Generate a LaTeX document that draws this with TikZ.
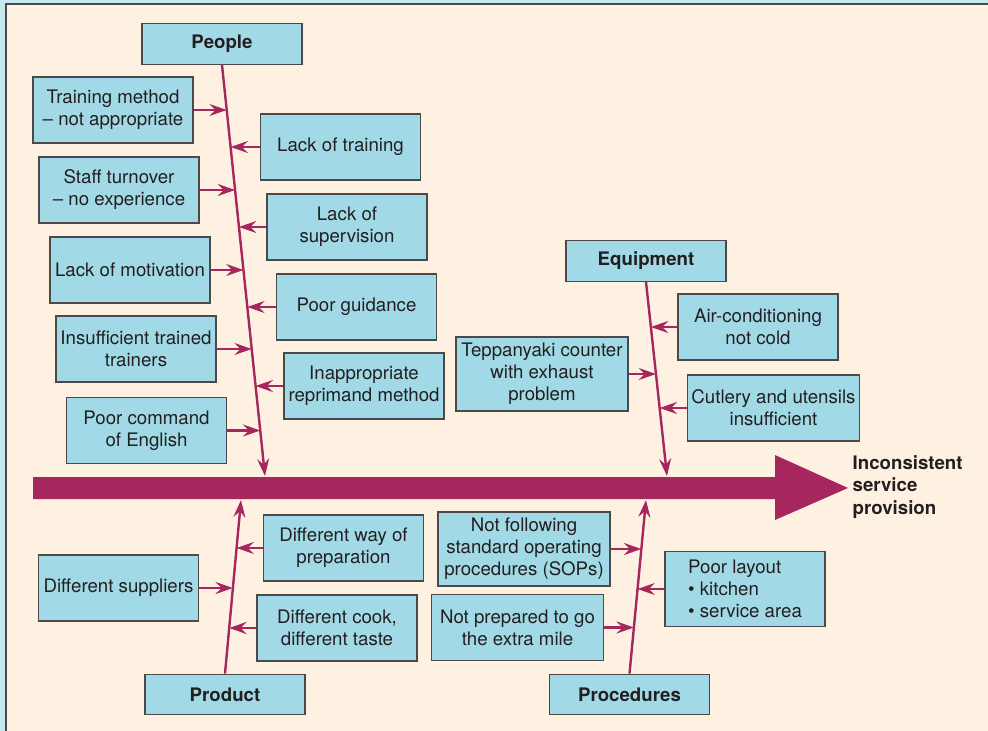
\documentclass[tikz,border=0pt]{standalone}
\usepackage{fontspec}
\setmainfont{TeX Gyre Heros}
\usetikzlibrary{arrows.meta,calc,intersections}
\definecolor{ink}{HTML}{231F20}
\definecolor{wine}{HTML}{A6265E}
\definecolor{cyanbox}{HTML}{A1DAE6}
\definecolor{edge}{HTML}{4A4A4A}
\definecolor{cream}{HTML}{FEF1E2}
\definecolor{frame}{HTML}{C8E8F0}

\begin{document}
\begin{tikzpicture}[x=0.75pt,y=-0.75pt,text=ink,>={Stealth[length=13pt,width=9pt,inset=4.5pt]},
  txt/.style={font=\fontsize{14}{16.5}\selectfont},
  box/.style={txt,draw=edge,fill=cyanbox,line width=0.9pt,align=center,
    minimum width=120pt,minimum height=49.5pt,inner sep=2pt},
  wide/.style={box,minimum width=129pt},
  head/.style={box,font=\fontsize{14}{16.5}\selectfont\bfseries,minimum height=30.5pt},
  spine/.style={wine,line width=1.8pt,->},
  twig/.style={wine,line width=1.8pt,->}]
  \useasboundingbox (0,0) rectangle (988,731);
  \fill[frame] (0,0) rectangle (988,731);
  \fill[cream] (6,4) rectangle (988,731);
  \draw[edge,line width=1pt] (6,731) -- (6,4) -- (988,4);

  % main bar and effect
  \fill[wine] (33,477) -- (775,477) -- (775,455) -- (848,488)
    -- (775,520) -- (775,499) -- (33,499) -- cycle;
  \node[txt,font=\fontsize{14}{16.9}\selectfont\bfseries,anchor=west,align=left]
    (effect) at (848,487) {Inconsistent\\service\\provision};

  % people
  \node[head] (people) at (222,44) {People};
  \node[box] (train) at (113,110) {Training method\\– not appropriate};
  \node[box] (lacktrain) at (340.5,147) {Lack of training};
  \node[box] (turnover) at (119,190) {Staff turnover\\– no experience};
  \node[box] (superv) at (347,227) {Lack of\\supervision};
  \node[box] (motiv) at (130,270) {Lack of motivation};
  \node[box] (guid) at (356.5,307) {Poor guidance};
  \node[box] (trainers) at (136,349) {Insufficient trained\\trainers};
  \node[box] (repri) at (364,386) {Inappropriate\\reprimand method};
  \node[box] (english) at (146.5,430.5) {Poor command\\of English};
  \coordinate (pplend) at (265,476);
  \draw[spine,name path=pplspine] (people.south) -- (pplend);

  % equipment
  \node[head] (equip) at (646,261) {Equipment};
  \node[box] (aircon) at (758,327) {Air-conditioning\\not cold};
  \node[wide,minimum height=55.5pt] (teppan) at (542,374)
    {Teppanyaki counter\\with exhaust\\problem};
  \node[wide] (cutlery) at (773.5,408) {Cutlery and utensils\\insufficient};
  \coordinate (eqend) at (667,476);
  \draw[spine,name path=eqspine] (equip.south) -- (eqend);

  % product
  \node[head] (product) at (225,694.5) {Product};
  \node[box] (prep) at (343.5,548) {Different way of\\preparation};
  \node[box] (suppl) at (118.5,588) {Different suppliers};
  \node[box] (cook) at (337,628) {Different cook,\\different taste};
  \coordinate (prend) at (241,500);
  \draw[spine,name path=prspine] (product.north) -- (prend);

  % procedures
  \node[head] (proc) at (629.5,694.5) {Procedures};
  \node[wide,minimum height=55.5pt] (sop) at (524,549)
    {Not following\\standard operating\\procedures (SOPs)};
  \node[box,align=left,minimum height=56pt] (layout) at (745,589)
    {Poor layout\\• kitchen\\• service area};
  \node[wide] (mile) at (517.5,627.5) {Not prepared to go\\the extra mile};
  \coordinate (pcend) at (646,500);
  \draw[spine,name path=pcspine] (proc.north) -- (pcend);

  % twigs onto the spines
  \foreach \n/\a/\d/\s in {train/east/1/pplspine,lacktrain/west/-1/pplspine,
      turnover/east/1/pplspine,superv/west/-1/pplspine,motiv/east/1/pplspine,
      guid/west/-1/pplspine,trainers/east/1/pplspine,repri/west/-1/pplspine,
      english/east/1/pplspine,aircon/west/-1/eqspine,teppan/east/1/eqspine,
      cutlery/west/-1/eqspine,prep/west/-1/prspine,suppl/east/1/prspine,
      cook/west/-1/prspine,sop/east/1/pcspine,layout/west/-1/pcspine,
      mile/east/1/pcspine}{
    \path[name path=ray] (\n.\a) -- ++(\d*90,0);
    \draw[twig,name intersections={of=ray and \s}] (\n.\a) -- (intersection-1);
  }
\end{tikzpicture}
\end{document}
